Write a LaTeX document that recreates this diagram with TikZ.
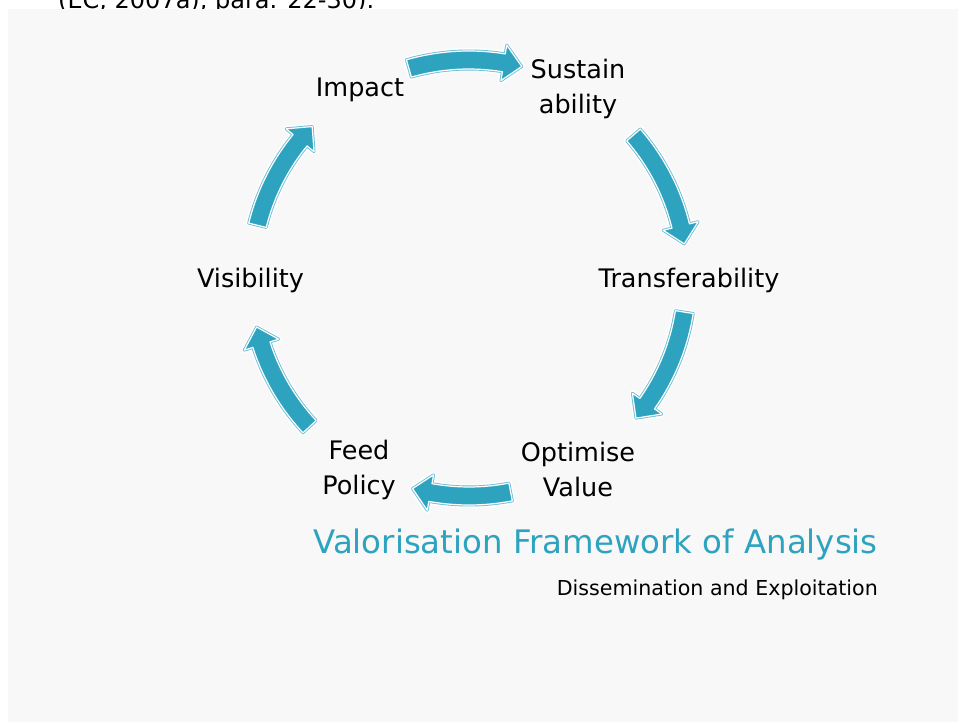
\documentclass[tikz,border=0pt]{standalone}
\usepackage{fontspec}
\setmainfont{DejaVu Sans}
\definecolor{cycleblue}{RGB}{46,163,192}
\definecolor{pagegray}{RGB}{248,248,248}

\begin{document}
\begin{tikzpicture}[x=1pt, y=1pt,
    stage/.style={font=\fontsize{25.5}{35}\selectfont, align=center, inner sep=0pt},
    cyclearrow/.style={fill=cycleblue, line join=round,
        preaction={draw=white, line width=6pt, line join=round},
        preaction={draw=cycleblue!70, line width=3pt, line join=round},
        postaction={draw=white, line width=1.2pt, line join=round}}]

    % Page
    \clip (-469, 278) rectangle (489, -444);
    \node[anchor=base west, inner sep=0pt, font=\fontsize{24}{28}\selectfont] at (-411, 269) (cite) {(EC, 2007a), para. 22-30).};
    \fill[pagegray] (-461, 269) rectangle (489, -444);

    % Nodes
    \node[stage] at (-109, 188) (Imp) {Impact};
    \node[stage] at (109, 189.5) (Sus) {Sustain\\ability};
    \node[stage] at (220, -2) (Tra) {Transferability};
    \node[stage] at (109, -191.5) (Opt) {Optimise\\Value};
    \node[stage] at (-110, -191.5) (Fee) {Feed\\Policy};
    \node[stage] at (-218.5, -2) (Vis) {Visibility};

    % Arrows round the cycle
    \foreach \t/\p in {106/76, 41/9, -9/-40, -79/-105, -137/-167, 166/136}
        \path[cyclearrow] (\t:227) arc[start angle=\t, end angle=\p+4.8, radius=227]
            -- ({\p+4.8}:236) -- (\p:218) -- ({\p+4.8}:200) -- ({\p+4.8}:209)
            arc[start angle=\p+4.8, end angle=\t, radius=209] -- cycle;

    % Titles
    \node[anchor=base east, inner sep=0pt, text=cycleblue, font=\fontsize{32.4}{38}\selectfont] at (409, -275) (title) {Valorisation Framework of Analysis};
    \node[anchor=base east, inner sep=0pt, font=\fontsize{20.6}{25}\selectfont] at (409, -317) (sub) {Dissemination and Exploitation};

\end{tikzpicture}
\end{document}
